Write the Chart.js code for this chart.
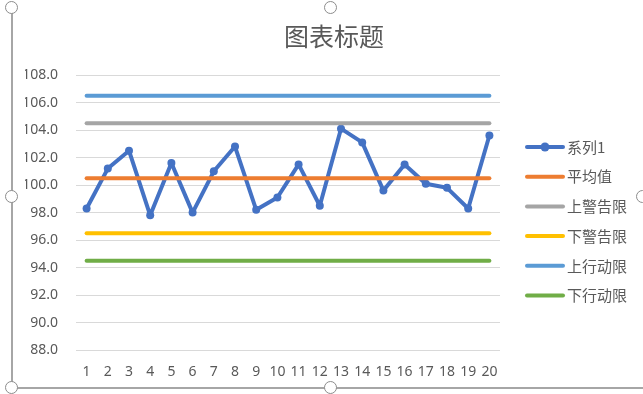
<!DOCTYPE html>
<html>
<head>
<meta charset="utf-8">
<script src="https://cdn.jsdelivr.net/npm/chart.js@4"></script>
<style>
  html, body { margin: 0; padding: 0; background: #fff; }
  #wrap { position: relative; width: 643px; height: 394px; overflow: hidden; }
  #wrap canvas { position: absolute; left: 0; top: 0; }
  .frame { position: absolute; left: 11px; top: 8px; width: 640px; height: 379px;
           border-left: 2px solid #a6a6a6; border-bottom: 2px solid #a6a6a6; }
  .handle { position: absolute; width: 11px; height: 11px; border-radius: 50%;
            border: 1.5px solid #8c8c8c; background: #fff; }
</style>
</head>
<body>
<div id="wrap">
  <canvas id="chart" width="643" height="394"></canvas>
  <div class="frame"></div>
  <div class="handle" style="left:5px;top:1px"></div>
  <div class="handle" style="left:5px;top:190px"></div>
  <div class="handle" style="left:5px;top:381px"></div>
  <div class="handle" style="left:324px;top:381px"></div>
  <div class="handle" style="left:324px;top:1px"></div>
  <div class="handle" style="left:636px;top:190px"></div>
</div>
<script>
const categories = ['1', '2', '3', '4', '5', '6', '7', '8', '9', '10',
  '11', '12', '13', '14', '15', '16', '17', '18', '19', '20'];
const series1 = [98.3, 101.2, 102.5, 97.8, 101.6, 98.0, 101.0, 102.8, 98.2, 99.1,
  101.5, 98.5, 104.1, 103.1, 99.6, 101.5, 100.1, 99.8, 98.3, 103.6];
const meanLine = [100.5, 100.5, 100.5, 100.5, 100.5, 100.5, 100.5, 100.5, 100.5, 100.5,
  100.5, 100.5, 100.5, 100.5, 100.5, 100.5, 100.5, 100.5, 100.5, 100.5];
const upperWarn = [104.5, 104.5, 104.5, 104.5, 104.5, 104.5, 104.5, 104.5, 104.5, 104.5,
  104.5, 104.5, 104.5, 104.5, 104.5, 104.5, 104.5, 104.5, 104.5, 104.5];
const lowerWarn = [96.5, 96.5, 96.5, 96.5, 96.5, 96.5, 96.5, 96.5, 96.5, 96.5,
  96.5, 96.5, 96.5, 96.5, 96.5, 96.5, 96.5, 96.5, 96.5, 96.5];
const upperAction = [106.5, 106.5, 106.5, 106.5, 106.5, 106.5, 106.5, 106.5, 106.5, 106.5,
  106.5, 106.5, 106.5, 106.5, 106.5, 106.5, 106.5, 106.5, 106.5, 106.5];
const lowerAction = [94.5, 94.5, 94.5, 94.5, 94.5, 94.5, 94.5, 94.5, 94.5, 94.5,
  94.5, 94.5, 94.5, 94.5, 94.5, 94.5, 94.5, 94.5, 94.5, 94.5];
const seriesNames = ['系列1', '平均值', '上警告限', '下警告限', '上行动限', '下行动限'];
const yMin = 88;
const yMax = 108;
const yStep = 2;

const textColor = '#595959';
const colors = ['#4472C4', '#ED7D31', '#A5A5A5', '#FFC000', '#5B9BD5', '#70AD47'];
const values = [series1, meanLine, upperWarn, lowerWarn, upperAction, lowerAction];

Chart.defaults.font.family = '"Noto Sans", "Noto Sans CJK SC", sans-serif';
Chart.defaults.color = textColor;

// legend on the right, drawn like the Excel one (line + marker for series 1)
const sideLegend = {
  id: 'sideLegend',
  afterDraw(chart) {
    const ctx = chart.ctx;
    const x0 = chart.chartArea.right + 27;
    const top = 147;
    chart.data.datasets.forEach((ds, i) => {
      const y = top + i * 29.7;
      ctx.save();
      ctx.strokeStyle = ds.borderColor;
      ctx.lineWidth = 4;
      ctx.lineCap = 'round';
      ctx.beginPath();
      ctx.moveTo(x0, y);
      ctx.lineTo(x0 + 36, y);
      ctx.stroke();
      if (ds.pointRadius) {
        ctx.fillStyle = ds.borderColor;
        ctx.beginPath();
        ctx.arc(x0 + 18, y, 4.5, 0, Math.PI * 2);
        ctx.fill();
      }
      ctx.fillStyle = textColor;
      ctx.font = '15px "Noto Sans CJK SC"';
      ctx.textBaseline = 'middle';
      ctx.fillText(ds.label, x0 + 40, y);
      ctx.restore();
    });
  }
};

new Chart(document.getElementById('chart'), {
  type: 'line',
  data: {
    labels: categories,
    datasets: values.map((data, i) => ({
      label: seriesNames[i],
      data: data,
      borderColor: colors[i],
      backgroundColor: colors[i],
      borderWidth: 4,
      borderCapStyle: 'round',
      borderJoinStyle: 'round',
      pointRadius: i === 0 ? 4 : 0,
      pointHoverRadius: i === 0 ? 4 : 0,
      pointBorderWidth: 0,
      tension: 0,
      order: values.length - i
    }))
  },
  options: {
    responsive: false,
    animation: false,
    layout: { padding: { left: 25, right: 0, top: 0, bottom: 1 } },
    plugins: {
      legend: { display: false },
      tooltip: { enabled: false },
      title: {
        display: true,
        text: '图表标题',
        color: textColor,
        font: { family: '"Noto Sans CJK SC", sans-serif', size: 25, weight: 'normal' },
        padding: { top: 21, bottom: 24 }
      }
    },
    scales: {
      x: {
        offset: true,
        grid: { display: false, drawTicks: false },
        border: { display: false },
        ticks: { padding: 13, font: { size: 14 }, color: textColor, maxRotation: 0, autoSkip: false }
      },
      y: {
        min: yMin,
        max: yMax,
        grid: { color: '#d9d9d9', lineWidth: 1, drawTicks: false },
        border: { display: false },
        ticks: {
          stepSize: yStep,
          padding: 18,
          font: { size: 14 },
          color: textColor,
          callback: v => v.toFixed(1)
        },
        afterFit(scale) { scale.width = 51; }
      },
      side: {
        position: 'right',
        display: true,
        grid: { display: false, drawTicks: false },
        border: { display: false },
        ticks: { display: false },
        afterFit(scale) { scale.width = 143; }
      }
    }
  },
  plugins: [sideLegend]
});
</script>
</body>
</html>
